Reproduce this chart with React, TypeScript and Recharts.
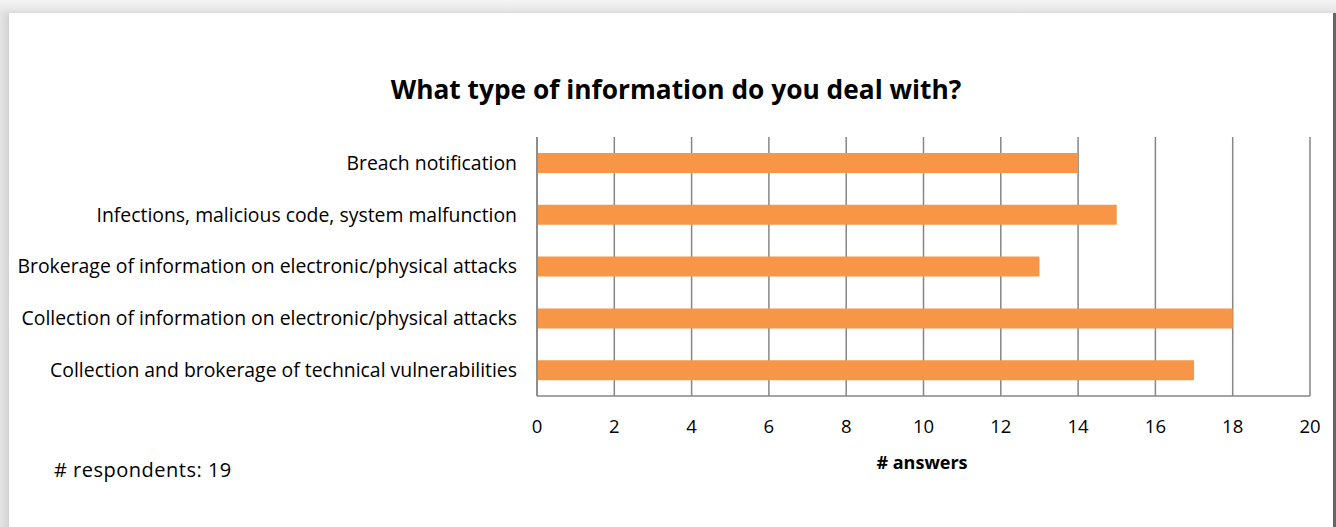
import { BarChart, Bar, XAxis, YAxis, CartesianGrid } from "recharts";

const categories = [
  "Breach notification",
  "Infections, malicious code, system malfunction",
  "Brokerage of information on electronic/physical attacks",
  "Collection of information on electronic/physical attacks",
  "Collection and brokerage of technical vulnerabilities",
];
const answers = [14, 15, 13, 18, 17];
const xTicks = [0, 2, 4, 6, 8, 10, 12, 14, 16, 18, 20];

const data = categories.map((name, i) => ({ name, answers: answers[i] }));

const FONT = "'Open Sans', Lato, sans-serif";
const GRID = "#868686";

export default function App() {
  return (
    <div
      style={{
        position: "fixed",
        left: 0,
        top: 0,
        width: 1336,
        height: 527,
        overflow: "hidden",
        background: "linear-gradient(#f4f4f4, #e4e4e4 13px)",
        fontFamily: FONT,
      }}
    >
      <div
        style={{
          position: "absolute",
          left: 9,
          top: 13,
          width: 1324,
          height: 540,
          background: "#fff",
          boxShadow: "-4px 0 6px rgba(0,0,0,0.08)",
          borderRight: "3px solid #666",
        }}
      />
      <div
        style={{
          position: "absolute",
          left: 0,
          top: 71,
          width: 1352,
          textAlign: "center",
          fontSize: 26.3,
          fontWeight: 700,
          color: "#000",
        }}
      >
        What type of information do you deal with?
      </div>
      <div style={{ position: "absolute", left: 0, top: 0 }}>
        <BarChart
          width={1336}
          height={527}
          data={data}
          layout="vertical"
          margin={{ top: 137, right: 26, bottom: 101, left: 0 }}
          barSize={20}
        >
          <CartesianGrid horizontal={false} stroke={GRID} strokeWidth={1.5} />
          <XAxis
            type="number"
            domain={[0, 20]}
            ticks={xTicks}
            height={30}
            tickLine={false}
            tickSize={0}
            tickMargin={24}
            axisLine={{ stroke: GRID, strokeWidth: 1.5 }}
            tick={{ fill: "#000", fontSize: 18.5, fontFamily: FONT }}
            interval={0}
          />
          <YAxis
            type="category"
            dataKey="name"
            width={537}
            tickLine={false}
            tickSize={0}
            tickMargin={20}
            axisLine={{ stroke: GRID, strokeWidth: 1.5 }}
            tick={{ fill: "#000", fontSize: 19.4, fontFamily: FONT }}
            interval={0}
          />
          <Bar dataKey="answers" fill="#F79646" isAnimationActive={false} />
        </BarChart>
      </div>
      <div
        style={{
          position: "absolute",
          left: 822,
          top: 450,
          width: 200,
          textAlign: "center",
          fontSize: 18,
          fontWeight: 700,
          color: "#000",
        }}
      >
        # answers
      </div>
      <div
        style={{
          position: "absolute",
          left: 54,
          top: 456,
          fontSize: 20,
          letterSpacing: 0.5,
          color: "#000",
        }}
      >
        # respondents: 19
      </div>
    </div>
  );
}
